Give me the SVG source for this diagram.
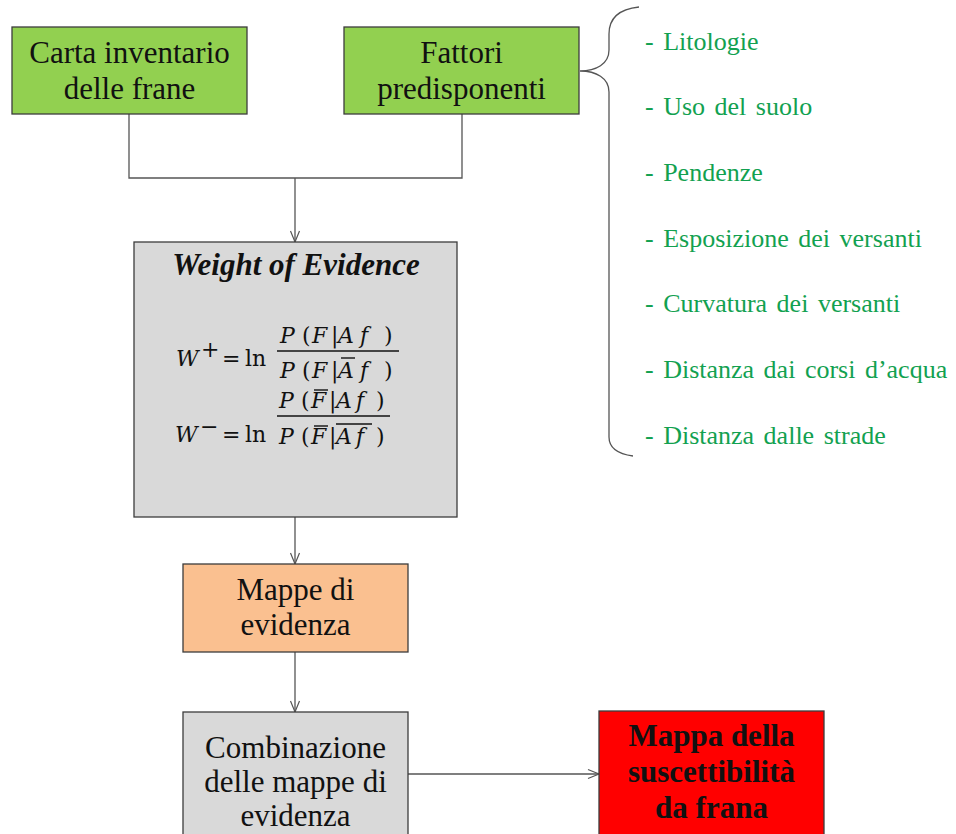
<svg xmlns="http://www.w3.org/2000/svg" width="956" height="834" viewBox="0 0 956 834">
<style>
.box{stroke:#3c3c3c;stroke-width:1.3}
.green{fill:#92D050}
.grey{fill:#D9D9D9}
.orange{fill:#FAC090}
.red{fill:#FF0000}
.t{font-family:"Liberation Serif",serif;font-size:31px;fill:#111;text-anchor:middle}
.tb{font-family:"Liberation Serif",serif;font-size:31px;font-weight:bold;fill:#111;text-anchor:middle}
.li{font-family:"Liberation Serif",serif;font-size:26px;fill:#12a150;word-spacing:3px}
.m{font-family:"DejaVu Serif",serif;font-size:22px;fill:#111;font-style:italic}
.mu{font-family:"DejaVu Serif",serif;font-size:22px;fill:#111;font-style:normal}
.conn{fill:none;stroke:#555;stroke-width:1.3}
.bar{stroke:#111;stroke-width:1.4}
</style>
<defs>
<marker id="arr" markerUnits="userSpaceOnUse" markerWidth="14" markerHeight="12" refX="12" refY="6" orient="auto">
<path d="M1,1.5 L12,6 L1,10.5" fill="none" stroke="#555" stroke-width="1.2"/>
</marker>
</defs>
<rect width="956" height="834" fill="#fff"/>

<g id="connectors">
<path class="conn" d="M129,114 V178 H462 V114"/>
<path class="conn" d="M295,178 V242" marker-end="url(#arr)"/>
<path class="conn" d="M295,517 V564" marker-end="url(#arr)"/>
<path class="conn" d="M295,652 V712" marker-end="url(#arr)"/>
<path class="conn" d="M408,774 H599" marker-end="url(#arr)"/>
</g>

<g id="carta">
<rect class="box green" x="12" y="27" width="235" height="87"/>
<text class="t" x="129.5" y="63">Carta inventario</text>
<text class="t" x="129.5" y="99">delle frane</text>
</g>

<g id="fattori">
<rect class="box green" x="344" y="27" width="235" height="87"/>
<text class="t" x="461.5" y="63">Fattori</text>
<text class="t" x="461.5" y="99">predisponenti</text>
</g>

<g id="brace">
<path d="M639,7 C620,9 609,18 609,34 V50 C609,64 596,71 580,71 C596,71 609,78 609,92 V437 C609,448 618,454 633,456" fill="none" stroke="#555" stroke-width="1.3"/>
</g>

<g id="factors">
<text class="li" x="645" y="50">- Litologie</text>
<text class="li" x="645" y="115">- Uso del suolo</text>
<text class="li" x="645" y="181">- Pendenze</text>
<text class="li" x="645" y="247">- Esposizione dei versanti</text>
<text class="li" x="645" y="312">- Curvatura dei versanti</text>
<text class="li" x="645" y="378">- Distanza dai corsi d’acqua</text>
<text class="li" x="645" y="444">- Distanza dalle strade</text>
</g>

<g id="woe">
<rect class="box grey" x="134" y="242" width="323" height="275"/>
<text class="tb" x="296" y="275" font-style="italic" font-size="29">Weight of Evidence</text>
<!-- formula 1 -->
<text class="m" x="176" y="366" font-size="23">W</text>
<text class="mu" x="201" y="357" font-size="14">+</text>
<text class="mu" x="222" y="366" font-size="20">=</text>
<text class="mu" x="245" y="366" font-size="24">ln</text>
<line class="bar" x1="277" y1="351" x2="399" y2="351"/>
<text class="m"><tspan x="280" y="343">P</tspan><tspan class="mu" x="302" y="343">(</tspan><tspan x="312" y="343">F</tspan><tspan class="mu" x="331" y="343">|</tspan><tspan x="338" y="343">A</tspan><tspan x="360" y="343">f</tspan><tspan class="mu" x="384" y="343">)</tspan></text>
<text class="m"><tspan x="280" y="378">P</tspan><tspan class="mu" x="302" y="378">(</tspan><tspan x="312" y="378">F</tspan><tspan class="mu" x="331" y="378">|</tspan><tspan x="338" y="378">A</tspan><tspan x="360" y="378">f</tspan><tspan class="mu" x="384" y="378">)</tspan></text>
<line class="bar" x1="341" y1="358" x2="355" y2="358"/>
<!-- formula 2 -->
<text class="m" x="175" y="442" font-size="23">W</text>
<text class="mu" x="200" y="434" font-size="14">−</text>
<text class="mu" x="222" y="442" font-size="20">=</text>
<text class="mu" x="245" y="442" font-size="24">ln</text>
<line class="bar" x1="277" y1="416" x2="390" y2="416"/>
<text class="m"><tspan x="279" y="408">P</tspan><tspan class="mu" x="301" y="408">(</tspan><tspan x="311" y="408">F</tspan><tspan class="mu" x="329" y="408">|</tspan><tspan x="336" y="408">A</tspan><tspan x="356" y="408">f</tspan><tspan class="mu" x="376" y="408">)</tspan></text>
<line class="bar" x1="314" y1="390" x2="328" y2="390"/>
<text class="m"><tspan x="279" y="444">P</tspan><tspan class="mu" x="301" y="444">(</tspan><tspan x="311" y="444">F</tspan><tspan class="mu" x="329" y="444">|</tspan><tspan x="336" y="444">A</tspan><tspan x="356" y="444">f</tspan><tspan class="mu" x="376" y="444">)</tspan></text>
<line class="bar" x1="314" y1="426" x2="328" y2="426"/>
<line class="bar" x1="336" y1="424" x2="372" y2="424"/>
</g>

<g id="mappe">
<rect class="box orange" x="183" y="564" width="225" height="88"/>
<text class="t" x="295.5" y="600">Mappe di</text>
<text class="t" x="295.5" y="635">evidenza</text>
</g>

<g id="combinazione">
<rect class="box grey" x="183" y="712" width="225" height="130"/>
<text class="t" x="295.5" y="758">Combinazione</text>
<text class="t" x="295.5" y="792">delle mappe di</text>
<text class="t" x="295.5" y="826">evidenza</text>
</g>

<g id="suscettibilita">
<rect class="box red" x="599" y="711" width="225" height="131"/>
<text class="tb" x="711.5" y="746">Mappa della</text>
<text class="tb" x="711.5" y="782">suscettibilità</text>
<text class="tb" x="711.5" y="818">da frana</text>
</g>
</svg>
